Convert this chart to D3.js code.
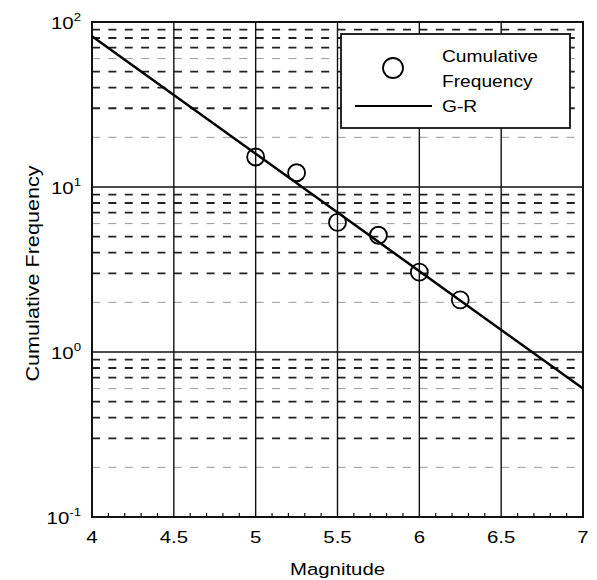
<!DOCTYPE html>
<html>
<head>
<meta charset="utf-8">
<script src="https://cdn.jsdelivr.net/npm/d3@7"></script>
<style>
  body { margin: 0; background: #fff; }
  text { font-family: "Liberation Sans", Arial, sans-serif; fill: #000; }
</style>
</head>
<body>
<div id="chart"></div>
<script>
let width = 597
let height = 580

// observed cumulative frequency
const magnitudes = [5, 5.25, 5.5, 5.75, 6, 6.25]
const cumFreq = [15.2, 12.2, 6.1, 5.1, 3.05, 2.07]

// Gutenberg-Richter fit end points
const grMag = [4, 7]
const grFreq = [82, 0.6]

const xTicks = [4, 4.5, 5, 5.5, 6, 6.5, 7]
const yDecades = [-1, 0, 1, 2]

const margin = {left: 92, right: 14, top: 22, bottom: 63}
const sx = 1.2 // the scanned text is a bit wide

const svg = d3.select("#chart")
  .append("svg")
  .attr("width", width)
  .attr("height", height)

const x = d3.scaleLinear()
  .domain([4, 7])
  .range([margin.left, width - margin.right])
const y = d3.scaleLog()
  .domain([0.1, 100])
  .range([height - margin.bottom, margin.top])

function label(parent, px, py, size, anchor, rot) {
  return parent.append("g")
    .attr("transform", `translate(${px},${py})` + (rot ? ` rotate(${rot})` : "") + ` scale(${sx},1)`)
    .append("text")
    .attr("text-anchor", anchor)
    .style("font-size", size + "px")
}

const grid = svg.append("g")

// minor horizontal dashed lines (2..9 each decade)
const minors = []
for (let e = -1; e < 2; e++) {
  for (let m = 2; m <= 9; m++) minors.push({v: m * Math.pow(10, e), m: m})
}
grid.selectAll(".minor")
  .data(minors)
  .enter()
  .append("line")
  .attr("x1", x(4)).attr("x2", x(7))
  .attr("y1", d => y(d.v)).attr("y2", d => y(d.v))
  .attr("stroke", d => (d.m == 2 || d.m == 6) ? "#999" : "#222")
  .attr("stroke-width", d => (d.m == 2 || d.m == 6) ? 1 : 1.8)
  .attr("stroke-dasharray", "8,8.37")

// major horizontal lines
grid.selectAll(".major")
  .data([1, 10])
  .enter()
  .append("line")
  .attr("x1", x(4)).attr("x2", x(7))
  .attr("y1", d => y(d)).attr("y2", d => y(d))
  .attr("stroke", "#111")
  .attr("stroke-width", 1.4)

// vertical grid lines
grid.selectAll(".vgrid")
  .data(xTicks.slice(1, -1))
  .enter()
  .append("line")
  .attr("x1", d => x(d)).attr("x2", d => x(d))
  .attr("y1", y(0.1)).attr("y2", y(100))
  .attr("stroke", "#111")
  .attr("stroke-width", 1.4)

// minor x ticks along bottom
const xMinor = d3.range(41, 70).map(d => d / 10).filter(d => Math.round(d * 10) % 5 != 0)
svg.selectAll(".xminor")
  .data(xMinor)
  .enter()
  .append("line")
  .attr("x1", d => x(d)).attr("x2", d => x(d))
  .attr("y1", y(0.1)).attr("y2", y(0.1) - 4)
  .attr("stroke", "#111")
  .attr("stroke-width", 1.2)

// frame
svg.append("rect")
  .attr("x", x(4)).attr("y", y(100))
  .attr("width", x(7) - x(4)).attr("height", y(0.1) - y(100))
  .attr("fill", "none")
  .attr("stroke", "#111")
  .attr("stroke-width", 2)

// G-R line
svg.append("line")
  .attr("x1", x(grMag[0])).attr("y1", y(grFreq[0]))
  .attr("x2", x(grMag[1])).attr("y2", y(grFreq[1]))
  .attr("stroke", "#000")
  .attr("stroke-width", 2.5)

// data circles
svg.selectAll(".pt")
  .data(magnitudes)
  .enter()
  .append("circle")
  .attr("cx", d => x(d))
  .attr("cy", (d, i) => y(cumFreq[i]))
  .attr("r", 8.5)
  .attr("fill", "none")
  .attr("stroke", "#000")
  .attr("stroke-width", 1.8)

// x tick labels
xTicks.forEach(d => {
  label(svg, x(d), y(0.1) + 26, 17, "middle").text(d)
})

// y tick labels 10^n
yDecades.forEach(d => {
  const t = label(svg, margin.left - 11, y(Math.pow(10, d)) + 7, 17, "end")
  t.append("tspan").text("10")
  t.append("tspan")
    .attr("dy", -8)
    .style("font-size", "11px")
    .text(d)
})

// axis titles
label(svg, x(5.5), 575, 17, "middle").text("Magnitude")
label(svg, 39, (y(0.1) + y(100)) / 2 + 4, 18, "middle", -90).text("Cumulative Frequency")

// legend
const lg = svg.append("g")
lg.append("rect")
  .attr("x", 341).attr("y", 34)
  .attr("width", 229).attr("height", 94)
  .attr("fill", "#fff")
  .attr("stroke", "#111")
  .attr("stroke-width", 1.8)
lg.append("circle")
  .attr("cx", 393).attr("cy", 68).attr("r", 10)
  .attr("fill", "none").attr("stroke", "#000").attr("stroke-width", 1.8)
label(lg, 442, 62, 16, "start").text("Cumulative")
label(lg, 442, 87, 16, "start").text("Frequency")
lg.append("line")
  .attr("x1", 355).attr("x2", 432)
  .attr("y1", 106).attr("y2", 106)
  .attr("stroke", "#000").attr("stroke-width", 2)
label(lg, 442, 112, 16, "start").text("G-R")
</script>
</body>
</html>
